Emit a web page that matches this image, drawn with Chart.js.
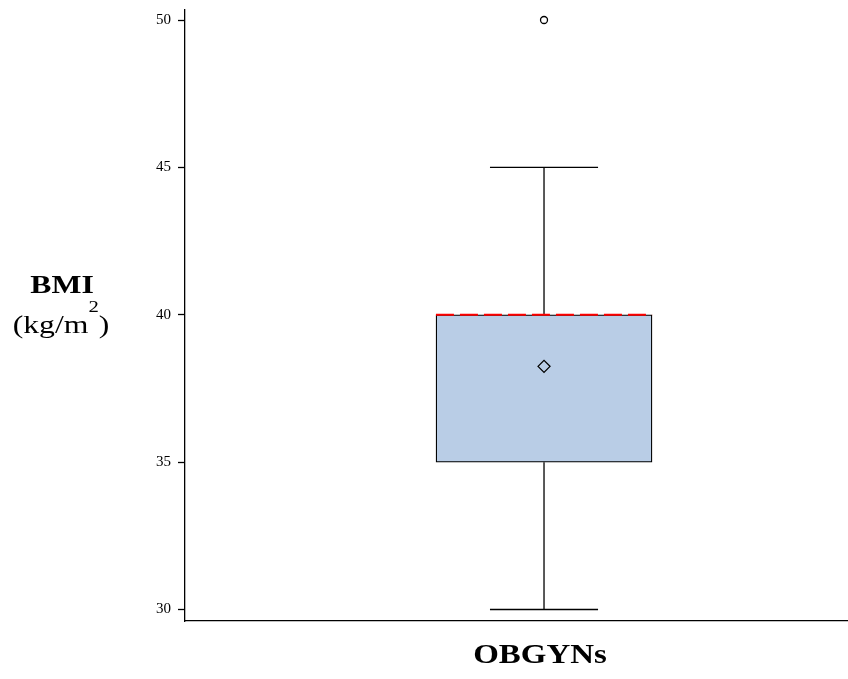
<!DOCTYPE html>
<html>
<head>
<meta charset="utf-8">
<script src="https://cdn.jsdelivr.net/npm/chart.js@4/dist/chart.umd.min.js"></script>
<style>
  html, body { margin: 0; padding: 0; background: #fff; overflow: hidden; }
  #wrap { width: 848px; height: 679px; }
  #chart { display: block; }
</style>
</head>
<body>
<div id="wrap"><canvas id="chart" width="848" height="679"></canvas></div>
<script>
// box plot summary
const categories = ['OBGYNs'];
const whiskerLow = [30];
const q1 = [35];
const median = [40];
const q3 = [40];
const whiskerHigh = [45];
const means = [38.25];
const outliers = [[50]];
const yTicks = [30, 35, 40, 45, 50];

// horizontal layout of the single group on a 0..1 x scale
const center = 0.5415;
const boxHalf = 0.163;
const capHalf = 0.0815;
const stretch = 1.22;   // the titles are drawn wide, as in the source
const serif = '"Liberation Serif", "Times New Roman", serif';

/** Writes text stretched horizontally, anchored at its centre. */
function wideText(ctx, parts, cx, baseline) {
    let total = 0;
    parts.forEach(p => { ctx.font = p.font; p.w = ctx.measureText(p.text).width; total += p.w; });
    ctx.save();
    ctx.translate(cx, 0);
    ctx.scale(stretch, 1);
    let x = -total / 2;
    ctx.textAlign = 'left';
    ctx.textBaseline = 'alphabetic';
    parts.forEach(p => {
        ctx.font = p.font;
        ctx.fillText(p.text, x, baseline + (p.dy || 0));
        x += p.w;
    });
    ctx.restore();
}

/** Axis titles: the two-line BMI title and the group name. */
const titles = {
    id: 'titles',
    afterDraw(chart) {
        const ctx = chart.ctx;
        const xs = chart.scales.x;
        ctx.save();
        ctx.fillStyle = '#000';
        wideText(ctx, [{text: 'BMI', font: `bold 26px ${serif}`}], 62, 293);
        wideText(ctx, [
            {text: '(kg/m', font: `26px ${serif}`},
            {text: '2', font: `17px ${serif}`, dy: -21},
            {text: ')', font: `26px ${serif}`}
        ], 61, 333);
        wideText(ctx, [{text: categories[0], font: `bold 27px ${serif}`}], xs.getPixelForValue(center) - 4, 663);
        ctx.restore();
    }
};

const i = 0;
const seg = (x1, y1, x2, y2) => [{x: x1, y: y1}, {x: x2, y: y2}];
const lineStyle = {
    type: 'line', borderColor: '#000', borderWidth: 1.3,
    pointRadius: 0, fill: false, showLine: true, borderCapStyle: 'butt'
};

const data = {
    datasets: [{
        type: 'bar',
        data: [{x: center, y: [q1[i], q3[i]]}],
        backgroundColor: '#b9cde6',
        borderColor: '#000',
        borderWidth: 1.3,
        borderSkipped: false,
        barThickness: 216,
        order: 5
    }, {
        ...lineStyle, data: seg(center, whiskerLow[i], center, q1[i]), order: 4
    }, {
        ...lineStyle, data: seg(center, q3[i], center, whiskerHigh[i]), order: 4
    }, {
        ...lineStyle, data: seg(center - capHalf, whiskerLow[i], center + capHalf, whiskerLow[i]), order: 4
    }, {
        ...lineStyle, data: seg(center - capHalf, whiskerHigh[i], center + capHalf, whiskerHigh[i]), order: 4
    }, {
        ...lineStyle, borderColor: '#ff0000', borderWidth: 2.2, borderDash: [18, 6],
        data: seg(center - boxHalf, median[i], center + boxHalf, median[i]), order: 2
    }, {
        type: 'scatter',
        data: [{x: center, y: means[i]}],
        pointStyle: 'rectRot', pointRadius: 6,
        backgroundColor: 'rgba(0,0,0,0)', borderColor: '#000', borderWidth: 1.3,
        order: 1
    }, {
        type: 'scatter',
        data: outliers[i].map(v => ({x: center, y: v})),
        pointStyle: 'circle', pointRadius: 3.5,
        backgroundColor: '#fff', borderColor: '#000', borderWidth: 1.3,
        order: 1
    }]
};

const config = {
    type: 'bar',
    data: data,
    options: {
        responsive: false,
        animation: false,
        events: [],
        layout: { autoPadding: false, padding: { top: 10, left: 0, right: 0, bottom: 0 } },
        plugins: {
            legend: { display: false },
            tooltip: { enabled: false }
        },
        scales: {
            x: {
                type: 'linear',
                offset: false,
                min: 0,
                max: 1,
                afterFit: s => {
                    s.height = 58;
                    s.paddingLeft = 0;
                    s.paddingRight = 0;
                },
                ticks: { display: false },
                grid: { display: false, offset: false },
                border: { display: true, color: '#000', width: 1.3 }
            },
            y: {
                min: 29.61,
                max: 50.34,
                afterBuildTicks: s => { s.ticks = yTicks.map(v => ({value: v})); },
                afterFit: s => {
                    s.width = 185;
                    s.paddingTop = 0;
                    s.paddingBottom = 0;
                },
                ticks: {
                    color: '#000',
                    padding: 7,
                    font: { family: serif, size: 15 }
                },
                grid: { drawOnChartArea: false, tickLength: 7, color: '#000', tickWidth: 1.3 },
                border: { display: true, color: '#000', width: 1.3 }
            }
        }
    },
    plugins: [titles]
};

new Chart(document.getElementById('chart'), config);
</script>
</body>
</html>
